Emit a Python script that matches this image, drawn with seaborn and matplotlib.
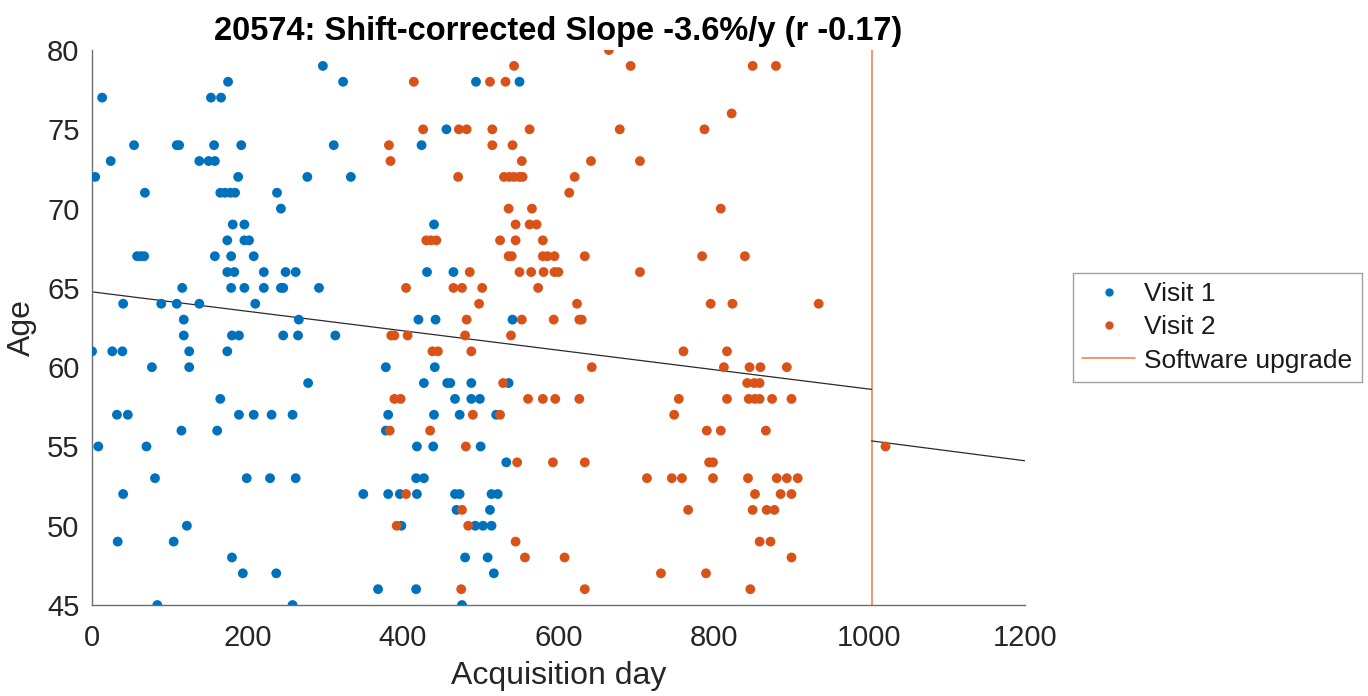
import numpy as np
import pandas as pd
import matplotlib
matplotlib.use("Agg")
import matplotlib.pyplot as plt
from matplotlib.lines import Line2D
import seaborn as sns

# ---- data (age -> acquisition days) ----
visit1 = {
    79: [297],
    78: [175, 323, 494, 550],
    77: [13, 153, 166],
    75: [456],
    74: [54, 109, 112, 157, 192, 311, 424],
    73: [24, 138, 150, 158],
    72: [4, 188, 277, 333],
    71: [68, 165, 171, 178, 184, 238],
    70: [243],
    69: [181, 196, 440],
    68: [174, 196, 202],
    67: [58, 63, 67, 158, 179, 208],
    66: [174, 183, 221, 249, 262, 431, 465],
    65: [116, 179, 196, 221, 243, 246, 292],
    64: [40, 89, 109, 138, 210],
    63: [118, 266, 420, 442, 541],
    62: [118, 180, 189, 246, 265, 313],
    61: [0, 26, 39, 125, 174],
    60: [77, 125, 378, 441],
    59: [278, 427, 457, 461, 488, 536],
    58: [165, 467, 488, 499],
    57: [32, 46, 189, 208, 231, 258, 381, 440, 473, 520],
    56: [115, 161, 378],
    55: [8, 70, 418, 439, 500],
    54: [533],
    53: [81, 199, 229, 262, 417, 427],
    52: [40, 349, 381, 396, 418, 467, 473, 514, 522],
    51: [469, 512],
    50: [122, 398, 493, 503, 514],
    49: [33, 105],
    48: [180, 480, 509],
    47: [194, 237, 517],
    46: [368, 417],
    45: [84, 258, 476],
}
visit2 = {
    80: [665],
    79: [543, 693, 850, 880],
    78: [414, 512, 532],
    76: [823],
    75: [426, 472, 482, 515, 563, 679, 788],
    74: [382, 515, 541],
    73: [384, 553, 642, 705],
    72: [471, 530, 537, 543, 550, 554, 621],
    71: [614],
    70: [536, 566, 809],
    69: [545, 563, 572],
    68: [430, 436, 443, 525, 545, 580],
    67: [536, 540, 580, 586, 595, 634, 785, 840],
    66: [486, 550, 565, 581, 595, 600, 705],
    65: [404, 465, 476, 502, 574],
    64: [498, 624, 796, 824, 935],
    63: [482, 553, 594, 627, 630],
    62: [385, 389, 406, 480, 539],
    61: [438, 445, 488, 761, 817],
    60: [643, 813, 846, 860, 894],
    59: [529, 843, 852, 859],
    58: [389, 397, 561, 580, 596, 627, 755, 817, 845, 853, 859, 875, 900],
    57: [490, 525, 749],
    56: [383, 435, 791, 809, 867],
    55: [481, 1021],
    54: [547, 593, 634, 794, 799],
    53: [714, 746, 759, 799, 844, 881, 894, 908],
    52: [404, 853, 886, 900],
    51: [476, 767, 850, 868, 878],
    50: [392, 484],
    49: [545, 859, 873],
    48: [557, 608, 900],
    47: [732, 790],
    46: [475, 634, 847],
}
upgrade_day = 1003
fit_before_x = [0, 1003]
fit_before_y = [64.75, 58.6]
fit_after_x = [1003, 1200]
fit_after_y = [55.35, 54.1]

title = "20574: Shift-corrected Slope -3.6%/y (r -0.17)"
legend_labels = ["Visit 1", "Visit 2", "Software upgrade"]
x_ticks = [0, 200, 400, 600, 800, 1000, 1200]
y_ticks = [45, 50, 55, 60, 65, 70, 75, 80]

def to_df(d, label):
    rows = [(day, age) for age, days in d.items() for day in days]
    df = pd.DataFrame(rows, columns=["day", "age"])
    df["visit"] = label
    return df

df = pd.concat([to_df(visit1, "Visit 1"), to_df(visit2, "Visit 2")], ignore_index=True)

sns.set_style("white")
plt.rcParams["font.family"] = ["Liberation Sans", "DejaVu Sans"]

fig = plt.figure(figsize=(13.68, 6.96), dpi=100)
ax = fig.add_axes([0.0673, 0.1307, 0.6817, 0.7974])

blue, orange, vline_c = "#0072BD", "#D95319", "#EE7A45"
palette = {"Visit 1": blue, "Visit 2": orange}
sns.scatterplot(data=df, x="day", y="age", hue="visit", palette=palette,
                s=50, linewidth=0, ax=ax, legend=False, zorder=3)

ax.plot(fit_before_x, fit_before_y, color="#2b2b2b", lw=0.9, zorder=2)
ax.plot(fit_after_x, fit_after_y, color="#2b2b2b", lw=0.9, zorder=2)
ax.axvline(upgrade_day, color=vline_c, lw=1.1, zorder=1)

ax.set_xlim(0, 1200)
ax.set_ylim(45, 80)
ax.set_xticks(x_ticks)
ax.set_yticks(y_ticks)
ax.tick_params(direction="in", length=7, width=1, colors="#6e6e6e",
               labelcolor="#262626", labelsize=21)
ax.tick_params(axis="x", pad=14)
ax.tick_params(axis="y", pad=9)
for sp in ["top", "right"]:
    ax.spines[sp].set_visible(False)
for sp in ["left", "bottom"]:
    ax.spines[sp].set_color("#6e6e6e")
    ax.spines[sp].set_linewidth(1)
ax.set_xlabel("Acquisition day", fontsize=23, color="#262626", labelpad=6)
ax.set_ylabel("Age", fontsize=23, color="#262626", labelpad=7)
ax.set_title(title, fontsize=23.5, fontweight="bold", color="black", pad=7)

handles = [
    Line2D([], [], marker="o", ls="", color=blue, markersize=5),
    Line2D([], [], marker="o", ls="", color=orange, markersize=5),
    Line2D([], [], color=vline_c, lw=1.1),
]
leg = fig.legend(handles, legend_labels,
                 loc="upper left", bbox_to_anchor=(1073/1368, 1 - 273/696),
                 fontsize=19, frameon=True, fancybox=False, handlelength=2.0,
                 handletextpad=0.35, borderpad=0.35, labelspacing=0.35,
                 borderaxespad=0)
for t in leg.get_texts():
    t.set_color("#1a1a1a")
leg.get_frame().set_edgecolor("#8a8a8a")
leg.get_frame().set_linewidth(1)

fig.savefig("out.png", dpi=100, facecolor="white")
